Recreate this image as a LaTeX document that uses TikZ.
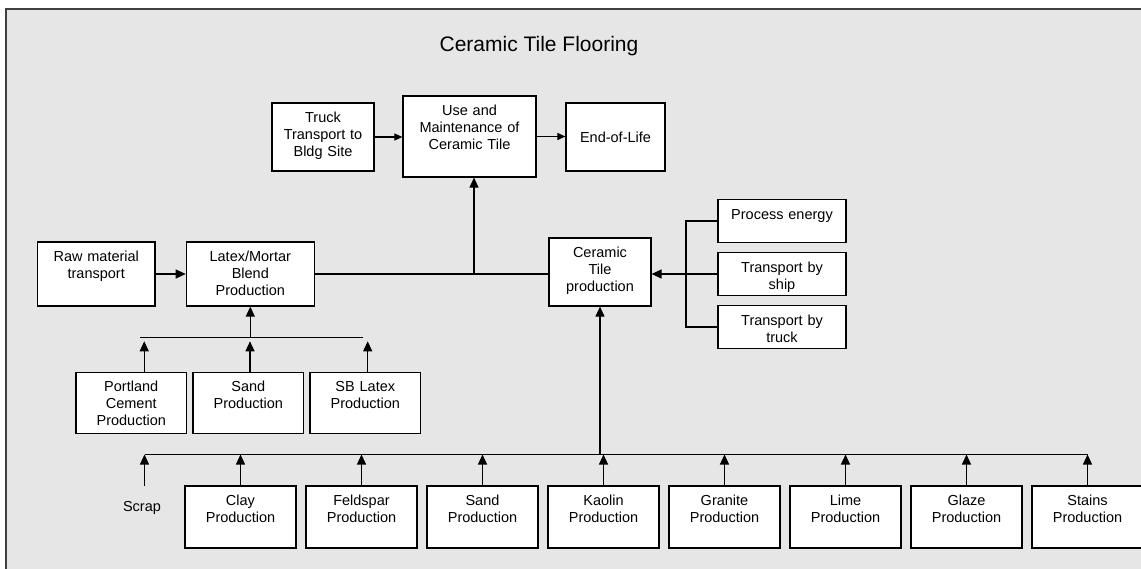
\documentclass[tikz,border=0pt]{standalone}
\usepackage{fontspec}
\setmainfont{Liberation Sans}
\usetikzlibrary{arrows.meta}
\definecolor{pagegray}{HTML}{E6E6E6}
\definecolor{framegray}{HTML}{404040}
\newcommand\blkfont{\fontsize{14.5}{17}\selectfont}
\newcommand\ttlfont{\fontsize{21}{25}\selectfont}
\tikzset{
  blk/.style 2 args={draw, fill=white, line width=1.2pt, inner xsep=2pt, inner ysep=4pt,
    text width=#1pt-4pt, text height=15.5pt, text depth=#2pt-23.5pt, align=center, font=\blkfont},
  blkc/.style 2 args={draw, fill=white, line width=1.2pt, inner sep=0pt,
    minimum width=#1pt, minimum height=#2pt, align=center, font=\blkfont},
  arr/.style={line width=1.1pt, -{Triangle[length=10pt,width=9pt]}},
  arrs/.style={line width=1.1pt, -{Triangle[length=8pt,width=7pt]}},
  bus/.style={line width=1.1pt}
}
\begin{document}
\begin{tikzpicture}[x=1pt,y=-1pt]
      \useasboundingbox (0,0) rectangle (1141,569);
      \clip (0,0) rectangle (1141,569);
      \fill[pagegray] (5.5,9) rectangle (1160,590);
      \draw[framegray, line width=2pt] (5.5,590) -- (5.5,9) -- (1160,9);
      \node[anchor=base, font=\ttlfont] (title) at (539,52) {Ceramic Tile Flooring};
      \draw
        (323,137) node[blk={102}{68}] (truck) {Truck\\Transport to\\Bldg Site}
        (469.5,136.5) node[blk={133}{81}] (use) {Use and\\Maintenance of\\Ceramic Tile}
        (615.5,137) node[blkc={99}{68}] (eol) {End-of-Life}
        (96.25,274) node[blk={117.5}{64}] (raw) {Raw material\\transport}
        (250.3,274) node[blk={128}{64}] (blend) {Latex/Mortar\\Blend\\Production}
        (600,272) node[blk={102}{68}] (cer) {Ceramic\\Tile\\production}
        (782,221) node[blk={128}{42.6}] (energy) {Process energy}
        (782,274) node[blk={128}{42.6}] (ship) {Transport by\\ship}
        (782,327) node[blk={128}{42.6}] (bytruck) {Transport by\\truck}
        (131.25,402.8) node[blk={110.5}{61}] (cement) {Portland\\Cement\\Production}
        (248.3,402.8) node[blk={110.5}{61}] (sanda) {Sand\\Production}
        (365.3,402.8) node[blk={110.5}{61}] (sbl) {SB Latex\\Production}
        (240.5,517) node[blk={111}{62}] (clay) {Clay\\Production}
        (361.5,517) node[blk={111}{62}] (feld) {Feldspar\\Production}
        (482.5,517) node[blk={111}{62}] (sandb) {Sand\\Production}
        (603.5,517) node[blk={111}{62}] (kaol) {Kaolin\\Production}
        (724.5,517) node[blk={111}{62}] (gran) {Granite\\Production}
        (845.5,517) node[blk={111}{62}] (lime) {Lime\\Production}
        (966.5,517) node[blk={111}{62}] (glaze) {Glaze\\Production}
        (1087.5,517) node[blk={111}{62}] (stain) {Stains\\Production};
      \node[anchor=base, font=\blkfont] (scrap) at (142,511.7) {Scrap};
      \coordinate (scrapin) at (144.5,486);
      \coordinate (bus1w) at (144.5,454.5);
      \coordinate (bus2w) at (140,337.3);
      \coordinate (bus2e) at (363.3,337.3);
      \coordinate (jn) at (474,274);
      \coordinate (rbus) at (686,274);
      \begin{scope}[bus]
        \draw (bus1w) to (stain.north |- bus1w);
        \draw (bus2w) to (bus2e);
        \draw (blend.east) to (cer.west |- blend.east);
        \draw (energy.west) -| (rbus) |- (bytruck.west);
        \draw (ship.west) to (rbus);
      \end{scope}
      \begin{scope}[arrs]
        \draw (truck.east) to (truck.east -| use.west);
        \draw (use.east) to (use.east -| eol.west);
      \end{scope}
      \begin{scope}[arr]
        \draw (jn) to (jn |- use.south);
        \draw (raw.east) to (blend.west);
        \draw (rbus) to (cer.east |- rbus);
        \draw (blend.south |- bus2w) to (blend.south);
        \draw[shorten >=4pt] ([xshift=13pt]cement.north) to ([xshift=13pt]cement.north |- bus2w);
        \draw[shorten >=4pt] ([xshift=1.7pt]sanda.north) to ([xshift=1.7pt]sanda.north |- bus2w);
        \draw[shorten >=4pt] ([xshift=2.4pt]sbl.north) to ([xshift=2.4pt]sbl.north |- bus2w);
        \draw (cer.south |- bus1w) to (cer.south);
        \draw (scrapin) to (bus1w);
        \draw (clay.north) to (clay.north |- bus1w);
        \draw (feld.north) to (feld.north |- bus1w);
        \draw (sandb.north) to (sandb.north |- bus1w);
        \draw (kaol.north) to (kaol.north |- bus1w);
        \draw (gran.north) to (gran.north |- bus1w);
        \draw (lime.north) to (lime.north |- bus1w);
        \draw (glaze.north) to (glaze.north |- bus1w);
        \draw (stain.north) to (stain.north |- bus1w);
      \end{scope}
    \end{tikzpicture}
\end{document}
